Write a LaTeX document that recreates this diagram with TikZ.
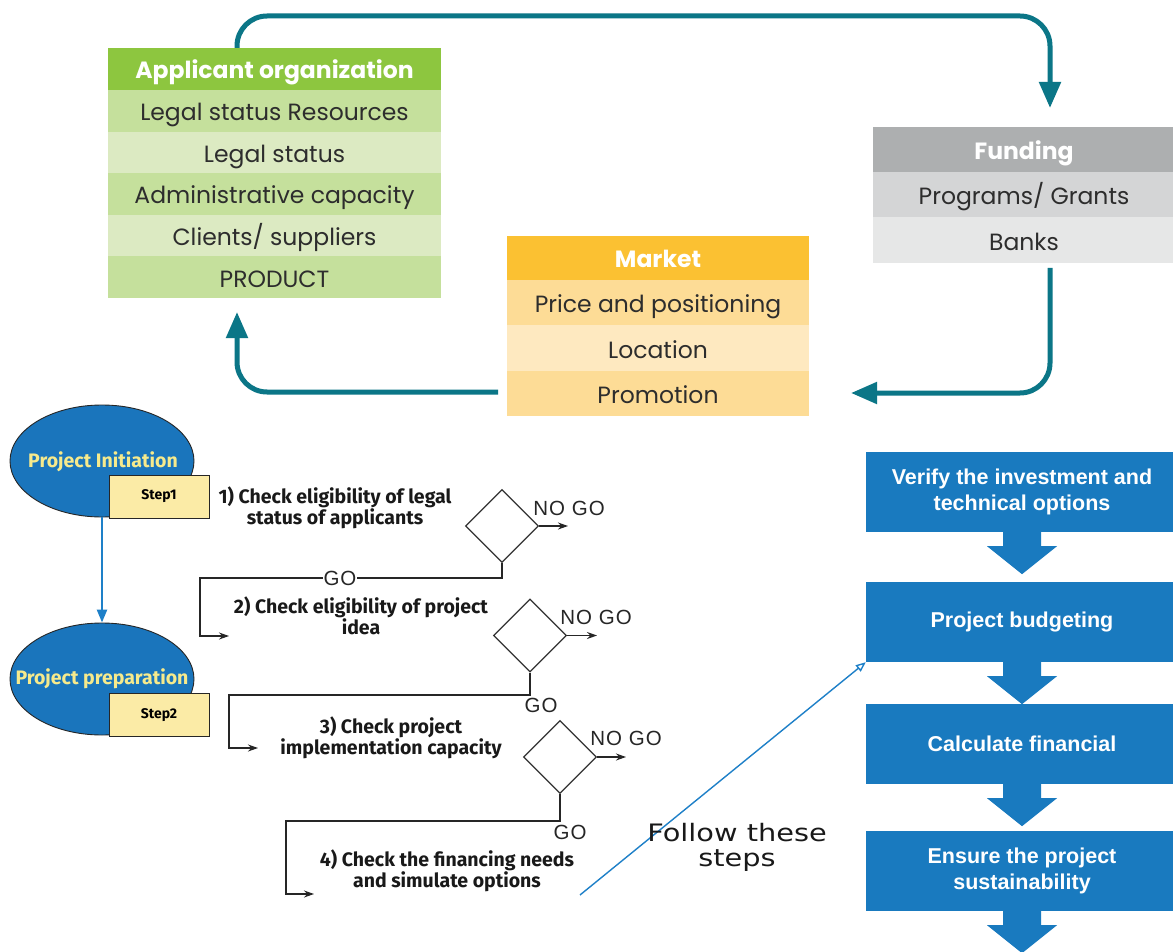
\documentclass[tikz,border=0pt]{standalone}
\usepackage{fontspec}
\setmainfont{Poppins}
\newfontfamily\flowfont{Fira Sans}
\newfontfamily\boxfont{Liberation Sans}
\newfontfamily\labfont[LetterSpace=5]{Liberation Sans}
\newfontfamily\followfont[FakeStretch=1.2]{DejaVu Sans}
\usetikzlibrary{arrows.meta,shapes.geometric}

\definecolor{loopteal}{RGB}{11,118,135}
\definecolor{greenhead}{RGB}{141,198,63}
\definecolor{greendark}{RGB}{197,224,156}
\definecolor{greenlight}{RGB}{220,234,194}
\definecolor{grayhead}{RGB}{173,175,176}
\definecolor{graydark}{RGB}{212,213,214}
\definecolor{graylight}{RGB}{230,231,231}
\definecolor{markethead}{RGB}{251,193,50}
\definecolor{marketdark}{RGB}{253,220,150}
\definecolor{marketlight}{RGB}{254,233,192}
\definecolor{textdark}{RGB}{45,45,45}
\definecolor{ellblue}{RGB}{26,117,188}
\definecolor{elltext}{RGB}{246,234,140}
\definecolor{stepyellow}{RGB}{251,235,166}
\definecolor{boxblue}{RGB}{25,122,191}
\definecolor{diagblue}{RGB}{30,128,200}

\begin{document}
\begin{tikzpicture}[x=1pt,y=-1pt,
  cell/.style={rectangle, inner sep=0, outer sep=0, text=textdark,
    text height=21, text depth=1,
    font=\fontsize{23.5}{26}\selectfont},
  headcell/.style={cell, text=white, font=\bfseries\fontsize{23.5}{26}\selectfont},
  loopline/.style={draw=loopteal, line width=5, rounded corners=30,
    -{Triangle[length=26,width=21]}},
  ellip/.style={ellipse, draw=black!85, line width=0.9, fill=ellblue,
    minimum width=184, minimum height=112, inner sep=0},
  elltitle/.style={inner sep=0, text=elltext,
    font=\flowfont\bfseries\fontsize{19.5}{21}\selectfont},
  stepbox/.style={rectangle, draw=black!85, line width=1, fill=stepyellow,
    minimum width=100, minimum height=43, inner sep=0,
    font=\flowfont\bfseries\fontsize{14}{16}\selectfont},
  flowtext/.style={align=center, text=black!90, inner sep=0,
    font=\flowfont\bfseries\fontsize{19.5}{21}\selectfont},
  decision/.style={diamond, draw=black!80, line width=1.2, minimum width=73,
    minimum height=73, inner sep=0, aspect=1},
  flow/.style={draw=black!85, line width=1.2},
  flowarrow/.style={flow, -{Stealth[length=10,width=7]}},
  golabel/.style={inner sep=1, text=black!85, font=\labfont\fontsize{20.5}{22}\selectfont},
  bluebox/.style={rectangle, fill=boxblue, minimum width=312, minimum height=80,
    inner sep=0, text=white, align=center,
    font=\boxfont\bfseries\fontsize{21.5}{26}\selectfont},
  downarrow/.pic={\fill[boxblue] (-19,0) -- (-19,14) -- (-35,14) -- (0,42)
    -- (35,14) -- (19,14) -- (19,0) -- cycle;}
]
\useasboundingbox (0,0) rectangle (1173,952);
\clip (0,0) rectangle (1173,952);
\fill[white] (0,0) rectangle (1173,952);

% ---------- Applicant organization table ----------
\node[headcell, fill=greenhead, minimum width=333, minimum height=42] (app-h) at (274.5,69) {Applicant organization};
\node[cell, fill=greendark,  minimum width=333, minimum height=41.6] (app-1) at (274.5,110.8) {Legal status Resources};
\node[cell, fill=greenlight, minimum width=333, minimum height=41.6] (app-2) at (274.5,152.4) {Legal status};
\node[cell, fill=greendark,  minimum width=333, minimum height=41.6] (app-3) at (274.5,194.0) {Administrative capacity};
\node[cell, fill=greenlight, minimum width=333, minimum height=41.6] (app-4) at (274.5,235.6) {Clients/ suppliers};
\node[cell, fill=greendark,  minimum width=333, minimum height=41.6] (app-5) at (274.5,277.2) {PRODUCT};

% ---------- Funding table ----------
\node[headcell, fill=grayhead, minimum width=302, minimum height=45] (fund-h) at (1024,149.5) {Funding};
\node[cell, fill=graydark,  minimum width=302, minimum height=45.5] (fund-1) at (1024,194.7) {Programs/ Grants};
\node[cell, fill=graylight, minimum width=302, minimum height=45.5] (fund-2) at (1024,240.2) {Banks};

% ---------- Market table ----------
\node[headcell, fill=markethead, minimum width=302, minimum height=44] (mkt-h) at (658,258) {Market};
\node[cell, fill=marketdark,  minimum width=302, minimum height=45.4] (mkt-1) at (658,302.7) {Price and positioning};
\node[cell, fill=marketlight, minimum width=302, minimum height=45.4] (mkt-2) at (658,348.1) {Location};
\node[cell, fill=marketdark,  minimum width=302, minimum height=45.4] (mkt-3) at (658,393.5) {Promotion};

% ---------- cycle connectors ----------
\coordinate (appout) at (237,48);
\coordinate (topright) at (1050,16);
\coordinate (fundin) at (1050,108);
\coordinate (fundout) at (1050,268);
\coordinate (mktin) at (851,393);
\coordinate (mktout) at (498,392);
\coordinate (appin) at (237,312);
\draw[loopline] (appout) |- (topright) -- (fundin);
\draw[loopline] (fundout) |- (mktin);
\draw[loopline] (mktout) -| (appin);

% ---------- project phases ----------
\node[ellip] (init) at (102,461) {};
\node[elltitle] (init-t) at (103,462) {Project Initiation};
\node[stepbox] (s1) at (159,496.5) {Step1};
\node[ellip] (prep) at (102,679) {};
\node[elltitle] (prep-t) at (102,679) {Project preparation};
\node[stepbox] (s2) at (159,715) {Step2};
\draw[draw=diagblue, line width=2.5, -{Triangle[length=13,width=10]}] (init.south) -- (prep.north);

% ---------- checks ----------
\node[flowtext] (t1) at (335,507.5) {1) Check eligibility of legal\\status of applicants};
\node[flowtext] (t2) at (361,615.5) {2) Check eligibility of project\\idea};
\node[flowtext] (t3) at (391,737.5) {3) Check project\\implementation capacity};
\node[flowtext] (t4) at (447,870.5) {4) Check the financing needs\\and simulate options};

\node[decision] (d1) at (502,526) {};
\node[decision] (d2) at (530,635.5) {};
\node[decision] (d3) at (560,757) {};

\coordinate (nogo1) at (568,526);
\coordinate (nogo2) at (597,635.5);
\coordinate (nogo3) at (626,757);
\draw[flowarrow] (d1.east) -- (nogo1);
\draw[flowarrow] (d2.east) -- (nogo2);
\draw[flowarrow] (d3.east) -- (nogo3);
\node[golabel] (ng1) at (569,508) {NO GO};
\node[golabel] (ng2) at (596,617) {NO GO};
\node[golabel] (ng3) at (626,738) {NO GO};

\coordinate (go1turn) at (200,578);
\coordinate (go1end) at (229,636);
\coordinate (go2turn) at (229,695);
\coordinate (go2end) at (258,748);
\coordinate (go3turn) at (286,821);
\coordinate (go3end) at (314,894);
\draw[flowarrow] (d1.south) |- (go1turn) |- (go1end);
\draw[flowarrow] (d2.south) |- (go2turn) |- (go2end);
\draw[flowarrow] (d3.south) |- (go3turn) |- (go3end);
\node[golabel, fill=white] (go1) at (340,578) {GO};
\node[golabel] (go2) at (541,705) {GO};
\node[golabel] (go3) at (570,832) {GO};

% ---------- right column ----------
\node[bluebox] (b1) at (1022,492) {Verify the investment and\\technical options};
\node[bluebox] (b2) at (1022,622) {Project budgeting};
\node[bluebox] (b3) at (1022,744) {Calculate financial};
\node[bluebox] (b4) at (1022,871) {Ensure the project\\sustainability};
\pic at (b1.south) {downarrow};
\pic at (b2.south) {downarrow};
\pic at (b3.south) {downarrow};
\pic at (b4.south) {downarrow};

\coordinate (follow) at (580,895);
\draw[draw=diagblue, line width=1.4, -{Triangle[open,length=10,width=8]}] (follow) -- (b2.south west);
\node[align=center, inner sep=0, text=black!90,
  font=\followfont\fontsize{24}{25}\selectfont] (steps) at (737,847) {Follow these\\steps};
\end{tikzpicture}
\end{document}
